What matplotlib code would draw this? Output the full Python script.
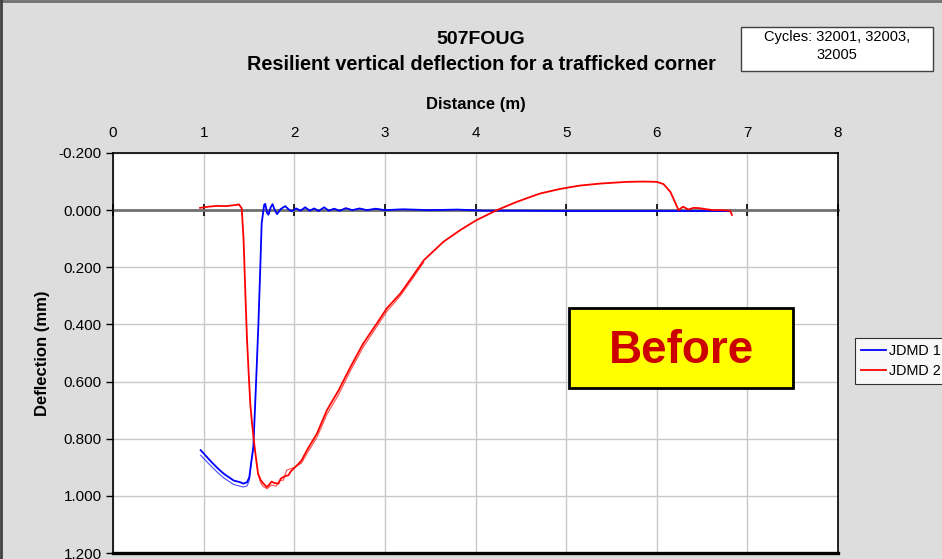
import numpy as np
import matplotlib
matplotlib.use("Agg")
import matplotlib.pyplot as plt
from matplotlib.patches import Rectangle

plt.rcParams['font.family'] = ['Liberation Sans', 'DejaVu Sans']

# JDMD 1 (blue), main trace
x_jdmd1 = [0.967, 1.07, 1.15, 1.22, 1.33, 1.40, 1.44, 1.48, 1.504, 1.523, 1.548,
           1.575, 1.604, 1.623, 1.64, 1.667, 1.68, 1.70, 1.715, 1.74, 1.76,
           1.785, 1.81, 1.85, 1.90, 1.94, 1.97, 2.02, 2.07, 2.12, 2.17, 2.22,
           2.27, 2.33, 2.38, 2.44, 2.50, 2.57, 2.64, 2.72, 2.80, 2.90, 3.0,
           3.2, 3.5, 3.8, 4.1, 4.5, 5.0, 5.5, 6.0, 6.4, 6.8]
y_jdmd1 = [0.840, 0.876, 0.902, 0.922, 0.946, 0.952, 0.957, 0.952, 0.934, 0.887, 0.830,
           0.630, 0.400, 0.220, 0.047, -0.018, -0.022, 0.010, 0.016, -0.010, -0.021,
           0.000, 0.014, -0.004, -0.014, -0.002, 0.004, -0.006, 0.002, -0.010, 0.002, -0.006,
           0.003, -0.010, 0.002, -0.005, 0.002, -0.007, 0.000, -0.006, 0.000, -0.005, 0.000,
           -0.003, 0.000, -0.002, 0.002, 0.002, 0.003, 0.003, 0.003, 0.003, 0.003]
# JDMD 1, other cycle where it separates (trough)
x_jdmd1_b = [0.967, 1.07, 1.15, 1.22, 1.33, 1.40, 1.44, 1.48, 1.504, 1.523, 1.548]
y_jdmd1_b = [0.858, 0.892, 0.917, 0.937, 0.960, 0.966, 0.969, 0.965, 0.945, 0.890, 0.830]

# JDMD 2 (red), main trace
x_jdmd2 = [0.96, 1.05, 1.15, 1.25, 1.35, 1.39, 1.42, 1.44, 1.459, 1.478, 1.497,
           1.515, 1.534, 1.552, 1.571, 1.60, 1.63, 1.66, 1.696, 1.72, 1.75, 1.78,
           1.825, 1.85, 1.88, 1.91, 1.935, 1.96, 1.99, 2.04, 2.08, 2.14, 2.25,
           2.36, 2.49, 2.62, 2.76, 2.91, 3.02, 3.17, 3.30, 3.43, 3.645, 3.83,
           4.01, 4.235, 4.455, 4.71, 4.93, 5.15, 5.375, 5.67, 5.85, 6.0, 6.075,
           6.15, 6.20, 6.24, 6.29, 6.35, 6.405, 6.47, 6.55, 6.63, 6.72, 6.81, 6.83]
y_jdmd2 = [-0.008, -0.012, -0.015, -0.014, -0.018, -0.020, -0.006, 0.100, 0.280, 0.450, 0.572,
           0.680, 0.747, 0.800, 0.852, 0.922, 0.945, 0.957, 0.969, 0.962, 0.950, 0.955,
           0.957, 0.940, 0.934, 0.930, 0.928, 0.915, 0.905, 0.890, 0.876, 0.840, 0.782,
           0.700, 0.630, 0.549, 0.467, 0.397, 0.344, 0.292, 0.234, 0.175, 0.111, 0.070,
           0.035, 0.000, -0.029, -0.058, -0.074, -0.086, -0.093, -0.099, -0.100, -0.099, -0.091,
           -0.064, -0.029, 0.000, -0.012, -0.002, -0.008, -0.007, -0.003, 0.000, 0.000, 0.002, 0.017]
# JDMD 2, other cycle where it separates (recovery)
x_jdmd2_b = [1.60, 1.63, 1.66, 1.70, 1.75, 1.80, 1.84, 1.88, 1.915, 1.96, 2.01, 2.08,
             2.14, 2.25, 2.36, 2.49, 2.62, 2.76, 2.91, 3.02, 3.17, 3.30, 3.43]
y_jdmd2_b = [0.925, 0.955, 0.968, 0.975, 0.962, 0.966, 0.946, 0.945, 0.910, 0.905, 0.899, 0.885,
             0.852, 0.795, 0.715, 0.645, 0.562, 0.480, 0.408, 0.355, 0.300, 0.242, 0.182]

x_ticks = list(range(0, 9))
y_ticks = [-0.2, 0.0, 0.2, 0.4, 0.6, 0.8, 1.0, 1.2]

fig = plt.figure(figsize=(9.42, 5.59), dpi=100)
fig.patch.set_facecolor('#dddddd')
ax = fig.add_axes([0.12, 0.0107, 0.7696, 0.7156])
ax.set_facecolor('white')

blue = '#0000ff'
red = '#ff0000'
ax.plot(x_jdmd1_b, y_jdmd1_b, color=blue, lw=0.8, alpha=0.7, zorder=3)
ax.plot(x_jdmd1, y_jdmd1, color=blue, lw=1.3, zorder=4, label='JDMD 1')
ax.plot(x_jdmd2_b, y_jdmd2_b, color=red, lw=0.8, alpha=0.7, zorder=3)
ax.plot(x_jdmd2, y_jdmd2, color=red, lw=1.3, zorder=4, label='JDMD 2')

ax.set_xlim(0, 8)
ax.set_ylim(1.2, -0.2)
ax.set_xticks(x_ticks)
ax.set_yticks(y_ticks)
ax.set_yticklabels(['%.3f' % v for v in y_ticks])
ax.grid(True, color='#c8c8c8', lw=1.0, zorder=0)
ax.set_axisbelow(True)

# x axis crossing at zero, labels on top
ax.spines['bottom'].set_position(('data', 0))
ax.spines['bottom'].set_color('#707070')
ax.spines['bottom'].set_linewidth(2)
ax.spines['bottom'].set_zorder(2)
for s in ['left', 'top', 'right']:
    ax.spines[s].set_color('black')
    ax.spines[s].set_linewidth(1.2)
ax.plot([0, 1], [0, 0], transform=ax.transAxes, color='black', lw=2.4, clip_on=False)
ax.tick_params(axis='x', bottom=True, top=True, labelbottom=False, labeltop=True,
               direction='inout', length=9, width=1.2, color='black',
               labelsize=11, pad=4.5)
for t in ax.xaxis.get_major_ticks():
    t.tick2line.set_visible(False)
ax.tick_params(axis='y', direction='out', length=5, width=1, labelsize=11, pad=3)

ax.xaxis.set_label_position('top')
ax.set_xlabel('Distance (m)', fontsize=12, fontweight='bold', labelpad=12.5)
ax.set_ylabel('Deflection (mm)', fontsize=12, fontweight='bold')
ax.yaxis.set_label_coords(-0.087, 0.5)

fig.text(0.51, 1 - 39 / 559, '507FOUG', ha='center', va='center', fontsize=14, fontweight='bold')
fig.text(0.511, 1 - 65 / 559, 'Resilient vertical deflection for a trafficked corner',
         ha='center', va='center', fontsize=14.3, fontweight='bold')

# cycles box
fig.patches.append(Rectangle((741 / 942, 1 - 71 / 559), 192 / 942, 44 / 559,
                             transform=fig.transFigure, facecolor='white',
                             edgecolor='#404040', lw=1.0))
fig.text(837 / 942, 1 - 46 / 559, 'Cycles: 32001, 32003,\n32005', ha='center', va='center',
         fontsize=10.5, linespacing=1.45)

# "Before" box
fig.patches.append(Rectangle((569 / 942, 1 - 388 / 559), 224 / 942, 80 / 559,
                             transform=fig.transFigure, facecolor='#ffff00',
                             edgecolor='black', lw=2.0, zorder=1))
fig.text(681 / 942, 1 - 351 / 559, 'Before', ha='center', va='center',
         fontsize=33, fontweight='bold', color='#cc0000', zorder=6)

leg = fig.legend(loc='upper left', bbox_to_anchor=(855 / 942, 1 - 338 / 559),
                 fontsize=10.4, frameon=True, fancybox=False, edgecolor='black',
                 handlelength=1.7, handletextpad=0.25, borderpad=0.42, labelspacing=0.4,
                 borderaxespad=0)
leg.get_frame().set_linewidth(0.8)

# figure border (top and left)
fig.add_artist(plt.Line2D([0, 1], [0.998, 0.998], color='#707070', lw=2, transform=fig.transFigure))
fig.add_artist(plt.Line2D([0.001, 0.001], [0, 1], color='#404040', lw=2, transform=fig.transFigure))

fig.savefig('out.png', dpi=100, facecolor=fig.get_facecolor())
